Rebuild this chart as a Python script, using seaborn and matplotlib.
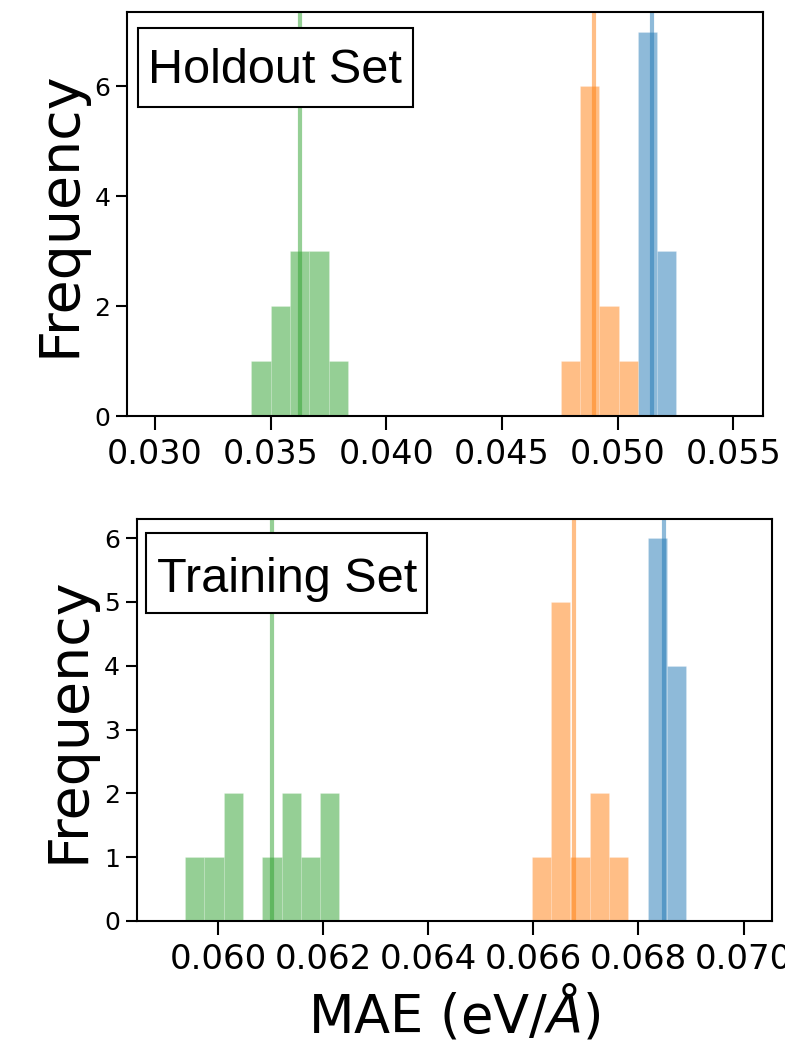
import matplotlib
matplotlib.use("Agg")
import matplotlib.pyplot as plt
import numpy as np
import pandas as pd
import seaborn as sns
from matplotlib.patches import Rectangle

# MAE of each model run (bin centres)
holdout_blue = [0.051287] * 7 + [0.052122] * 3
holdout_orange = [0.047947] + [0.048782] * 6 + [0.049617] * 2 + [0.050452]
holdout_green = [0.034587] + [0.035422] * 2 + [0.036257] * 3 + [0.037092] * 3 + [0.037927]

train_blue = [0.068356] * 6 + [0.068722] * 4
train_orange = [0.066155] + [0.066522] * 5 + [0.066889] + [0.067255] * 2 + [0.067622]
train_green = [0.059555, 0.059922, 0.060289, 0.060289, 0.061022,
               0.061389, 0.061389, 0.061756, 0.062122, 0.062122]

# vertical reference lines (blue, orange, green)
holdout_lines = [0.05149, 0.04897, 0.03628]
train_lines = [0.068487, 0.066775, 0.061033]

# common bins: (first edge, last edge, count)
holdout_bins = (0.034169, 0.052541, 22)
train_bins = (0.059372, 0.068906, 26)

holdout_xlim = (0.02879, 0.05626)
train_xlim = (0.058445, 0.070533)
holdout_xticks = [0.030, 0.035, 0.040, 0.045, 0.050, 0.055]
train_xticks = [0.060, 0.062, 0.064, 0.066, 0.068, 0.070]
holdout_yticks = [0, 2, 4, 6]
train_yticks = [0, 1, 2, 3, 4, 5, 6]

colors = ["tab:blue", "tab:orange", "tab:green"]

sns.set_style("ticks")
plt.rcParams["font.family"] = ["DejaVu Sans"]
plt.rcParams["text.color"] = "black"
plt.rcParams["axes.labelcolor"] = "black"
plt.rcParams["xtick.color"] = "black"
plt.rcParams["ytick.color"] = "black"
plt.rcParams["axes.edgecolor"] = "black"

fig = plt.figure(figsize=(7.85, 10.44), dpi=100)
W, H = 785, 1044
ax1 = fig.add_axes([127 / W, 1 - 416 / H, (762.5 - 127) / W, (416 - 12.3) / H])
ax2 = fig.add_axes([136.5 / W, 1 - 921 / H, (771.5 - 136.5) / W, (921 - 519) / H])


def draw(ax, series, lines, bins, xlim, xticks, yticks, label, box, xsize):
    lo, hi, n = bins
    for vals, ref, c in zip(series, lines, colors):
        df = pd.DataFrame({"mae": vals})
        sns.histplot(data=df, x="mae", bins=n, binrange=(lo, hi), color=c,
                     alpha=0.5, edgecolor=(1, 1, 1, 0.25), linewidth=0.5, ax=ax)
        ax.axvline(ref, color=c, alpha=0.5, lw=3)
    ax.set_xlim(*xlim)
    ax.set_xticks(xticks)
    ax.set_yticks(yticks)
    ax.set_ylabel("Frequency", fontsize=40, labelpad=6)
    ax.set_xlabel("")
    ax.tick_params(axis="x", labelsize=xsize, length=10, width=1.5, pad=6)
    ax.tick_params(axis="y", labelsize=18, length=8, width=1.5, pad=4)
    for s in ax.spines.values():
        s.set_linewidth(1.5)
    # label box: (left, bottom, width, height, text baseline) in axes fraction
    bx, by, bw, bh, base = box
    ax.add_patch(Rectangle((bx, by), bw, bh, transform=ax.transAxes,
                           facecolor="white", edgecolor="black", lw=1.5,
                           zorder=5))
    ax.text(bx + bw / 2, base, label, transform=ax.transAxes, fontsize=35,
            family="Liberation Sans", va="baseline", ha="center", zorder=6)


draw(ax1, [holdout_blue, holdout_orange, holdout_green], holdout_lines,
     holdout_bins, holdout_xlim, holdout_xticks, holdout_yticks,
     "Holdout Set", (0.0173, 0.7645, 0.432, 0.1955, 0.8243), 24)
draw(ax2, [train_blue, train_orange, train_green], train_lines,
     train_bins, train_xlim, train_xticks, train_yticks,
     "Training Set", (0.015, 0.7654, 0.443, 0.199, 0.8192), 24.5)

ax2.set_xlabel(r"MAE (eV/$\AA$)", fontsize=38, labelpad=5)

fig.savefig("out.png", dpi=100)
